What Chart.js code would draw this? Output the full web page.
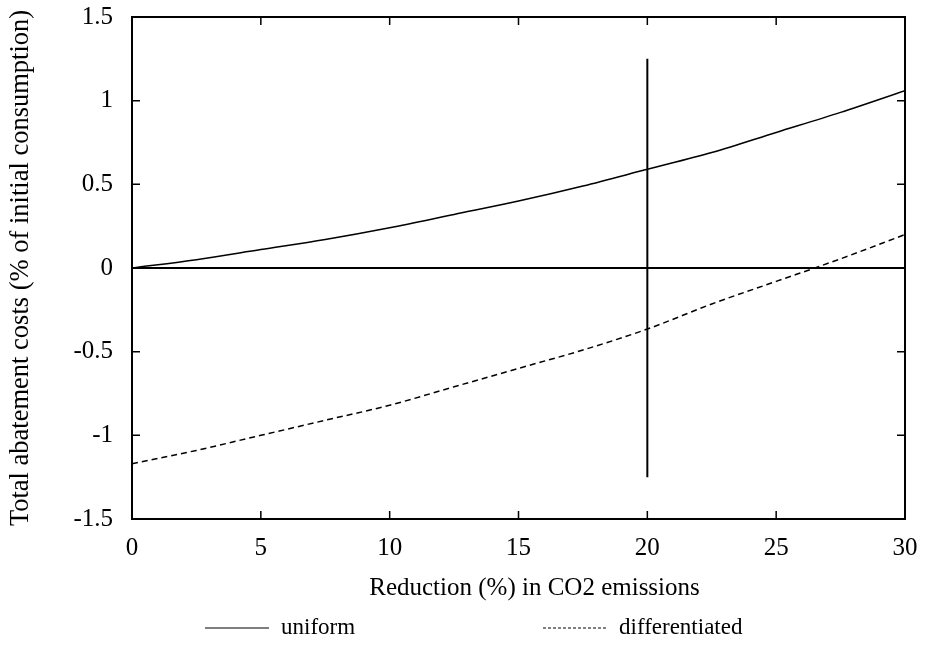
<!DOCTYPE html>
<html>
<head>
<meta charset="utf-8">
<script src="https://cdn.jsdelivr.net/npm/chart.js@4/dist/chart.umd.min.js"></script>
<style>
  html, body { margin: 0; padding: 0; background: #fff; }
  #wrap { width: 927px; height: 648px; }
</style>
</head>
<body>
<div id="wrap"><canvas id="grafico"></canvas></div>
<script>
// Datos
const reduccion = [0, 2.5, 5, 7.5, 10, 12.5, 15, 17.5, 20, 22.5, 25, 27.5, 30];
const uniforme = [0, 0.05, 0.11, 0.17, 0.24, 0.32, 0.40, 0.49, 0.59, 0.69, 0.81, 0.93, 1.06];
const diferenciado = [-1.17, -1.09, -1.00, -0.91, -0.82, -0.71, -0.60, -0.49, -0.365, -0.215, -0.08, 0.055, 0.20];
const lineaCero = { x: [0, 30], y: [0, 0] };
const lineaVertical = { x: [20, 20], y: [1.25, -1.25] };
const ticksX = [0, 5, 10, 15, 20, 25, 30];
const ticksY = [-1.5, -1, -0.5, 0, 0.5, 1, 1.5];
const tituloX = 'Reduction (%) in CO2 emissions';
const tituloY = 'Total abatement costs (% of initial consumption)';

const FUENTE = 'Liberation Serif, Times New Roman, serif';

const puntos = (xs, ys) => xs.map((x, i) => ({ x, y: ys[i] }));

// Marco con ticks hacia adentro, título del eje X y leyenda al pie
const marcoPlugin = {
  id: 'marco',
  afterDraw(chart) {
    const { ctx, chartArea: a, scales: { x, y } } = chart;
    ctx.save();
    ctx.strokeStyle = '#000';
    ctx.lineWidth = 1.5;
    ctx.beginPath();
    ticksX.forEach(v => {
      const px = x.getPixelForValue(v);
      ctx.moveTo(px, a.bottom); ctx.lineTo(px, a.bottom - 8);
      ctx.moveTo(px, a.top); ctx.lineTo(px, a.top + 8);
    });
    ticksY.forEach(v => {
      const py = y.getPixelForValue(v);
      ctx.moveTo(a.left, py); ctx.lineTo(a.left + 8, py);
      ctx.moveTo(a.right, py); ctx.lineTo(a.right - 8, py);
    });
    ctx.stroke();
    ctx.lineWidth = 2;
    ctx.strokeRect(a.left, a.top, a.right - a.left, a.bottom - a.top);

    ctx.fillStyle = '#000';
    ctx.textBaseline = 'middle';

    // título eje X (un poco corrido a la derecha, como el original)
    ctx.font = '25px ' + FUENTE;
    ctx.textAlign = 'center';
    ctx.fillText(tituloX, (a.left + a.right) / 2 + 16, 588);

    // leyenda
    const items = chart.data.datasets.filter(d => d.leyenda);
    const yl = 628;
    const xs = [205, 543];
    ctx.font = '23px ' + FUENTE;
    ctx.textAlign = 'left';
    items.forEach((d, i) => {
      ctx.beginPath();
      ctx.lineWidth = 1;
      ctx.setLineDash(d.borderDash && d.borderDash.length ? [3, 2] : []);
      ctx.moveTo(xs[i], yl); ctx.lineTo(xs[i] + 64, yl);
      ctx.stroke();
      ctx.setLineDash([]);
      ctx.fillText(d.label, xs[i] + 76, yl);
    });
    ctx.restore();
  }
};

new Chart(document.getElementById('grafico').getContext('2d'), {
  type: 'line',
  data: {
    datasets: [
      {
        label: 'uniform',
        leyenda: true,
        data: puntos(reduccion, uniforme),
        borderColor: '#000',
        borderWidth: 1.5,
        pointRadius: 0,
        cubicInterpolationMode: 'monotone'
      },
      {
        label: 'differentiated',
        leyenda: true,
        data: puntos(reduccion, diferenciado),
        borderColor: '#000',
        borderWidth: 1.5,
        borderDash: [6, 4],
        pointRadius: 0,
        cubicInterpolationMode: 'monotone'
      },
      {
        label: 'cero',
        data: puntos(lineaCero.x, lineaCero.y),
        borderColor: '#000',
        borderWidth: 2,
        pointRadius: 0
      },
      {
        label: 'vertical',
        data: puntos(lineaVertical.x, lineaVertical.y),
        borderColor: '#000',
        borderWidth: 2,
        pointRadius: 0
      }
    ]
  },
  options: {
    responsive: true,
    maintainAspectRatio: false,
    animation: false,
    layout: { padding: { top: 17, right: 22, left: 0, bottom: 0 } },
    plugins: {
      legend: { display: false },
      tooltip: { enabled: false }
    },
    scales: {
      x: {
        type: 'linear',
        min: 0,
        max: 30,
        afterFit: s => { s.height = 129; s.paddingLeft = 0; s.paddingRight = 0; },
        afterBuildTicks: s => { s.ticks = ticksX.map(v => ({ value: v })); },
        grid: { display: false, drawTicks: false },
        border: { display: false },
        ticks: { color: '#000', padding: 14, maxRotation: 0, font: { family: FUENTE, size: 25 } },
        title: { display: false }
      },
      y: {
        type: 'linear',
        min: -1.5,
        max: 1.5,
        afterFit: s => { s.width = 132; s.paddingTop = 0; s.paddingBottom = 0; },
        afterBuildTicks: s => { s.ticks = ticksY.map(v => ({ value: v })); },
        grid: { display: false, drawTicks: false },
        border: { display: false },
        ticks: { color: '#000', padding: 19, font: { family: FUENTE, size: 25 }, callback: v => String(v) },
        title: {
          display: true,
          text: tituloY,
          color: '#000',
          font: { family: FUENTE, size: 26.5 },
          padding: { top: 5, bottom: 0 }
        }
      }
    }
  },
  plugins: [marcoPlugin]
});
</script>
</body>
</html>
